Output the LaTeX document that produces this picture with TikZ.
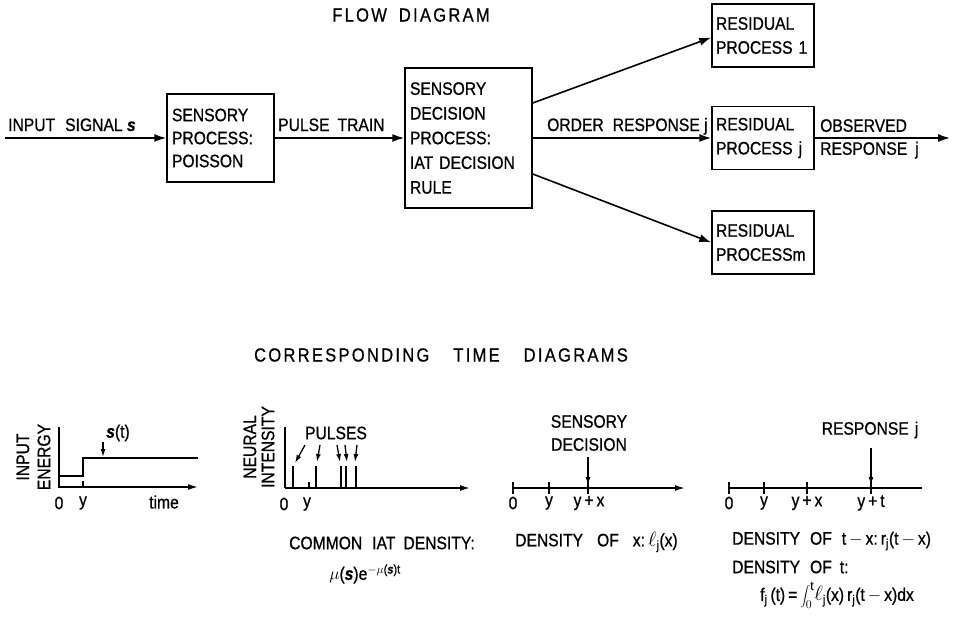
\documentclass[tikz,border=0pt]{standalone}
\usepackage{fontspec}
\setmainfont{Liberation Sans}[FakeStretch=0.87,FakeBold=0.8]
\usetikzlibrary{arrows.meta}
\newcommand{\sig}{\textit{\textbf{s}}}
\newcommand{\ellj}{{\fontsize{21}{21}\selectfont$\ell$}\textsubscript{j}}
\begin{document}
\begin{tikzpicture}[x=1pt,y=-1pt,
  every node/.style={font=\fontsize{18}{24}\selectfont, inner sep=0pt},
  box/.style={draw, line width=1.5pt, align=left, inner xsep=5pt, anchor=center},
  ln/.style={line width=1.6pt},
  arr/.style={ln, -{Latex[length=12pt,width=8pt]}},
  sarr/.style={line width=1.3pt, -{Latex[length=8pt,width=5pt]}},
  tk/.style={line width=1.3pt},
  pulse/.style={line width=1.2pt},
  ttl/.style={font=\fontsize{19}{20}\selectfont\addfontfeature{LetterSpace=12}},
]
\useasboundingbox (0,0) rectangle (954,625);

% ---------- flow diagram ----------
\node[ttl] (t1) at (411,15) {FLOW\hspace{12pt}DIAGRAM};

\node[box, minimum width=107pt, minimum height=88pt, text width=97pt, font=\fontsize{18}{23}\selectfont] (b1) at (220.5,138)
  {SENSORY\\PROCESS:\\POISSON};
\node[box, minimum width=127pt, minimum height=140pt, text width=117pt, font=\fontsize{18}{24.7}\selectfont] (b2) at (468.5,138)
  {SENSORY\\DECISION\\PROCESS:\\IAT DECISION\\RULE};
\node[box, minimum width=102pt, minimum height=63pt, text width=94pt, inner xsep=4pt] (r1) at (763,35.5)
  {RESIDUAL\\PROCESS 1};
\node[box, minimum width=102pt, minimum height=63pt, text width=94pt, inner xsep=4pt] (r2) at (763,138)
  {RESIDUAL\\PROCESS j};
\node[box, minimum width=102pt, minimum height=63pt, text width=94pt, inner xsep=4pt] (r3) at (763,242.5)
  {RESIDUAL\\PROCESSm};

\coordinate (in) at (5,138);
\coordinate (out) at (950,138);
\draw[arr] (in) -- (b1);
\draw[arr] (b1) -- (b2);
\draw[arr] ([yshift=35pt]b2.east) -- ([yshift=-2pt]r1.west);
\draw[arr] (b2.east) -- (r2.west);
\draw[arr] ([yshift=-36pt]b2.east) -- (r3.west);
\draw[arr] (r2.east) -- (out);

\node[anchor=base west] (lin) at (8,131) {INPUT\hspace{10pt}SIGNAL \sig};
\node[anchor=base west] (lpt) at (278,131) {PULSE\hspace{8pt}TRAIN};
\node[anchor=base west] (lor) at (547,131) {ORDER\hspace{9pt}RESPONSE j};
\node[anchor=north west, align=left, font=\fontsize{18}{23}\selectfont] (lob) at (820,119) {OBSERVED\\RESPONSE\hspace{8pt}j};

% ---------- time diagrams ----------
\node[ttl] (t2) at (441,355) {CORRESPONDING\hspace{24pt}TIME\hspace{24pt}DIAGRAMS};

% diagram 1: input energy
\draw[ln] (59,427) -- (59,488);
\draw[ln, -{Latex[length=10pt,width=6pt]}] (59,487) -- (198,487);
\draw[ln] (59,476) -- (83,476) -- (83,458) -- (198,458);
\draw[tk] (83,481) -- (83,488);
\draw[sarr] (103,442) -- (103,457);
\node (lst) at (118,433) {\sig(t)};
\node[rotate=90] (lie1) at (23,457) {INPUT};
\node[rotate=90] (lie2) at (44,457) {ENERGY};
\node (a0) at (59,503) {0};
\node (ay) at (83,503) {y};
\node (atime) at (164,502) {time};

% diagram 2: neural intensity
\draw[ln] (285,427) -- (285,488);
\draw[ln, -{Latex[length=10pt,width=6pt]}] (285,488) -- (470,488);
\foreach \px in {293,316,341,346,356} \draw[pulse] (\px,488) -- (\px,466);
\draw[tk] (309,488) -- (309,482);
\node (lpul) at (336,433) {PULSES};
\draw[sarr] (305,445) -- (295,463);
\draw[sarr] (320,445) -- (317,462);
\draw[sarr] (337,445) -- (340,462);
\draw[sarr] (345,445) -- (347,462);
\draw[sarr] (357,445) -- (355,462);
\node[rotate=90] (lni1) at (250,447) {NEURAL};
\node[rotate=90] (lni2) at (268,447) {INTENSITY};
\node (b0) at (284,504) {0};
\node (by) at (307,504) {y};
\node (lcom) at (382,543) {COMMON\hspace{10pt}IAT\hspace{8pt}DENSITY:};
\node (lmu) at (365,574) {$\mu$(\sig)e\textsuperscript{$-\mu$(\sig)t}};

% diagram 3: sensory decision
\draw[ln, -{Latex[length=10pt,width=6pt]}] (513,488) -- (685,488);
\foreach \px in {513,549,588} \draw[tk] (\px,482) -- (\px,494);
\node (c0) at (513,503) {0};
\node (cy) at (549,503) {y};
\node (cyx) at (589,503) {y\,+\,x};
\node[align=center, font=\fontsize{18}{23}\selectfont] (lsd) at (589,433) {SENSORY\\DECISION};
\draw[sarr] (588,457) -- (588,485);
\node[anchor=west] (lden1) at (515,542) {DENSITY\hspace{14pt}OF\hspace{14pt}x:\,\ellj(x)};

% diagram 4: response
\draw[ln] (729,488) -- (922,488);
\foreach \px in {729,764,807,871} \draw[tk] (\px,482) -- (\px,494);
\node (d0) at (729,503) {0};
\node (dy) at (764,503) {y};
\node (dyx) at (807,503) {y\,+\,x};
\node (dyt) at (871,503) {y\,+\,t};
\node (lrj) at (870,430) {RESPONSE\hspace{6pt}j};
\draw[sarr] (871,448) -- (871,485);
\node[anchor=west] (lden2) at (732,541) {DENSITY\hspace{10pt}OF\hspace{10pt}t\,$-$\,x:\,r\textsubscript{j}(t\,$-$\,x)};
\node[anchor=west] (lden3) at (732,567) {DENSITY\hspace{10pt}OF\hspace{8pt}t:};
\node (lform) at (837,595) {f\textsubscript{j}\,(t)\,=\,$\displaystyle\int_0^{\mathrm{t}}$\ellj(x)\,r\textsubscript{j}(t\,$-$\,x)dx};
\end{tikzpicture}
\end{document}
